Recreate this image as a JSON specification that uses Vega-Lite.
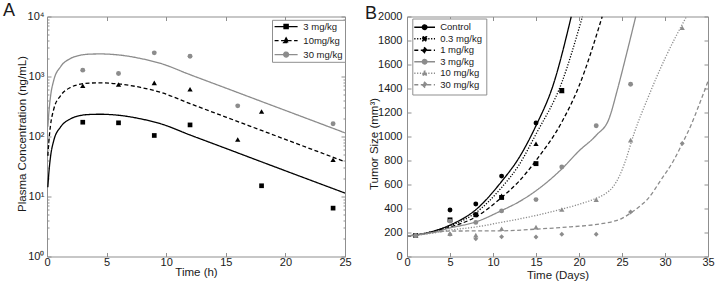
{
  "$schema": "https://vega.github.io/schema/vega-lite/v6.json",
  "autosize": {"type": "pad"},
  "padding": {"left": 2, "top": 1.5, "right": 0, "bottom": 0},
  "bounds": "flush",
  "spacing": 62,
  "resolve": {"scale": {"stroke": "independent", "fill": "independent", "shape": "independent", "strokeDash": "independent"}, "legend": {"stroke": "independent", "fill": "independent", "shape": "independent", "strokeDash": "independent"}},
  "config": {
    "font": "Liberation Sans",
    "view": {"stroke": "#8f8f8f", "strokeWidth": 1},
    "axis": {"domain": false, "grid": false, "tickColor": "#8f8f8f", "labelColor": "#1a1a1a", "titleColor": "#1a1a1a", "labelFontSize": 11, "titleFontSize": 11.5, "titleFontWeight": "normal", "labelFont": "Liberation Sans", "titleFont": "Liberation Sans", "labelFlush": false, "labelOverlap": false, "labelBound": false},
    "legend": {"labelFont": "Liberation Sans", "labelColor": "#1a1a1a", "labelFontSize": 9.5, "symbolOpacity": 1},
    "title": {"fontSize": 18, "fontWeight": "normal", "font": "Liberation Sans", "color": "#1a1a1a"}
  },
  "datasets": {
    "curvesA": [
      {"t":0.07,"c":14.3,"dose":"3 mg/kg"},{"t":0.15,"c":24,"dose":"3 mg/kg"},{"t":0.29,"c":45,"dose":"3 mg/kg"},{"t":0.57,"c":86,"dose":"3 mg/kg"},{"t":1.13,"c":143,"dose":"3 mg/kg"},{"t":1.97,"c":197,"dose":"3 mg/kg"},{"t":2.82,"c":224,"dose":"3 mg/kg"},{"t":3.6,"c":233,"dose":"3 mg/kg"},{"t":4.5,"c":235,"dose":"3 mg/kg"},{"t":5.3,"c":232,"dose":"3 mg/kg"},{"t":6.18,"c":224,"dose":"3 mg/kg"},{"t":7.86,"c":197,"dose":"3 mg/kg"},{"t":9.54,"c":163,"dose":"3 mg/kg"},{"t":12,"c":106,"dose":"3 mg/kg"},{"t":15,"c":63.4,"dose":"3 mg/kg"},{"t":18,"c":37.8,"dose":"3 mg/kg"},{"t":21,"c":22.6,"dose":"3 mg/kg"},{"t":25,"c":11.4,"dose":"3 mg/kg"},
      {"t":0.07,"c":47.7,"dose":"10mg/kg"},{"t":0.15,"c":80,"dose":"10mg/kg"},{"t":0.29,"c":150,"dose":"10mg/kg"},{"t":0.57,"c":287,"dose":"10mg/kg"},{"t":1.13,"c":477,"dose":"10mg/kg"},{"t":1.97,"c":657,"dose":"10mg/kg"},{"t":2.82,"c":747,"dose":"10mg/kg"},{"t":3.6,"c":777,"dose":"10mg/kg"},{"t":4.5,"c":783,"dose":"10mg/kg"},{"t":5.3,"c":773,"dose":"10mg/kg"},{"t":6.18,"c":747,"dose":"10mg/kg"},{"t":7.86,"c":657,"dose":"10mg/kg"},{"t":9.54,"c":543,"dose":"10mg/kg"},{"t":12,"c":353,"dose":"10mg/kg"},{"t":15,"c":211,"dose":"10mg/kg"},{"t":18,"c":126,"dose":"10mg/kg"},{"t":21,"c":75.3,"dose":"10mg/kg"},{"t":25,"c":38,"dose":"10mg/kg"},
      {"t":0.07,"c":145,"dose":"30 mg/kg"},{"t":0.15,"c":243,"dose":"30 mg/kg"},{"t":0.29,"c":455,"dose":"30 mg/kg"},{"t":0.57,"c":870,"dose":"30 mg/kg"},{"t":1.13,"c":1447,"dose":"30 mg/kg"},{"t":1.97,"c":1994,"dose":"30 mg/kg"},{"t":2.82,"c":2267,"dose":"30 mg/kg"},{"t":3.6,"c":2358,"dose":"30 mg/kg"},{"t":4.5,"c":2378,"dose":"30 mg/kg"},{"t":5.3,"c":2348,"dose":"30 mg/kg"},{"t":6.18,"c":2267,"dose":"30 mg/kg"},{"t":7.86,"c":1994,"dose":"30 mg/kg"},{"t":9.54,"c":1650,"dose":"30 mg/kg"},{"t":12,"c":1073,"dose":"30 mg/kg"},{"t":15,"c":642,"dose":"30 mg/kg"},{"t":18,"c":383,"dose":"30 mg/kg"},{"t":21,"c":229,"dose":"30 mg/kg"},{"t":25,"c":115,"dose":"30 mg/kg"}
    ],
    "pointsA": [
      {"t":3,"c":173,"dose":"3 mg/kg"},{"t":6,"c":169,"dose":"3 mg/kg"},{"t":9,"c":104,"dose":"3 mg/kg"},{"t":12,"c":156,"dose":"3 mg/kg"},{"t":18,"c":15.1,"dose":"3 mg/kg"},{"t":24,"c":6.4,"dose":"3 mg/kg"},
      {"t":3,"c":699,"dose":"10mg/kg"},{"t":6,"c":736,"dose":"10mg/kg"},{"t":9,"c":784,"dose":"10mg/kg"},{"t":12,"c":615,"dose":"10mg/kg"},{"t":16,"c":89,"dose":"10mg/kg"},{"t":18,"c":261,"dose":"10mg/kg"},{"t":24,"c":41,"dose":"10mg/kg"},
      {"t":3,"c":1276,"dose":"30 mg/kg"},{"t":6,"c":1122,"dose":"30 mg/kg"},{"t":9,"c":2477,"dose":"30 mg/kg"},{"t":12,"c":2181,"dose":"30 mg/kg"},{"t":16,"c":324,"dose":"30 mg/kg"},{"t":24,"c":163,"dose":"30 mg/kg"}
    ],
    "curvesB": [
      {"d":0,"v":170,"g":"Control"},{"d":3,"v":210,"g":"Control"},{"d":5,"v":262,"g":"Control"},{"d":8,"v":390,"g":"Control"},{"d":11,"v":625,"g":"Control"},{"d":13,"v":820,"g":"Control"},{"d":15,"v":1090,"g":"Control"},{"d":17,"v":1430,"g":"Control"},{"d":19.1,"v":2000,"g":"Control"},
      {"d":0,"v":170,"g":"0.3 mg/kg"},{"d":3,"v":208,"g":"0.3 mg/kg"},{"d":5,"v":255,"g":"0.3 mg/kg"},{"d":8,"v":365,"g":"0.3 mg/kg"},{"d":11,"v":575,"g":"0.3 mg/kg"},{"d":13,"v":760,"g":"0.3 mg/kg"},{"d":15,"v":1020,"g":"0.3 mg/kg"},{"d":18,"v":1450,"g":"0.3 mg/kg"},{"d":20.4,"v":2000,"g":"0.3 mg/kg"},
      {"d":0,"v":170,"g":"1 mg/kg"},{"d":3,"v":205,"g":"1 mg/kg"},{"d":5,"v":245,"g":"1 mg/kg"},{"d":8,"v":330,"g":"1 mg/kg"},{"d":11,"v":492,"g":"1 mg/kg"},{"d":13,"v":625,"g":"1 mg/kg"},{"d":15,"v":800,"g":"1 mg/kg"},{"d":18,"v":1120,"g":"1 mg/kg"},{"d":20,"v":1420,"g":"1 mg/kg"},{"d":22.7,"v":2000,"g":"1 mg/kg"},
      {"d":0,"v":170,"g":"3 mg/kg"},{"d":3,"v":200,"g":"3 mg/kg"},{"d":5,"v":238,"g":"3 mg/kg"},{"d":8,"v":288,"g":"3 mg/kg"},{"d":11,"v":383,"g":"3 mg/kg"},{"d":13,"v":455,"g":"3 mg/kg"},{"d":15,"v":548,"g":"3 mg/kg"},{"d":18,"v":730,"g":"3 mg/kg"},{"d":20,"v":880,"g":"3 mg/kg"},{"d":22,"v":1010,"g":"3 mg/kg"},{"d":23.5,"v":1150,"g":"3 mg/kg"},{"d":24.5,"v":1400,"g":"3 mg/kg"},{"d":25.5,"v":1680,"g":"3 mg/kg"},{"d":26.6,"v":2000,"g":"3 mg/kg"},
      {"d":0,"v":170,"g":"10 mg/kg"},{"d":3,"v":195,"g":"10 mg/kg"},{"d":5,"v":220,"g":"10 mg/kg"},{"d":8,"v":246,"g":"10 mg/kg"},{"d":11,"v":285,"g":"10 mg/kg"},{"d":15,"v":342,"g":"10 mg/kg"},{"d":18,"v":395,"g":"10 mg/kg"},{"d":20,"v":435,"g":"10 mg/kg"},{"d":22,"v":485,"g":"10 mg/kg"},{"d":23,"v":520,"g":"10 mg/kg"},{"d":24,"v":585,"g":"10 mg/kg"},{"d":24.7,"v":670,"g":"10 mg/kg"},{"d":25.3,"v":776,"g":"10 mg/kg"},{"d":26.4,"v":1025,"g":"10 mg/kg"},{"d":28,"v":1320,"g":"10 mg/kg"},{"d":30,"v":1650,"g":"10 mg/kg"},{"d":32.5,"v":2000,"g":"10 mg/kg"},
      {"d":0,"v":170,"g":"30 mg/kg"},{"d":3,"v":200,"g":"30 mg/kg"},{"d":5,"v":212,"g":"30 mg/kg"},{"d":8,"v":213,"g":"30 mg/kg"},{"d":11,"v":214,"g":"30 mg/kg"},{"d":15,"v":228,"g":"30 mg/kg"},{"d":18,"v":242,"g":"30 mg/kg"},{"d":22.5,"v":272,"g":"30 mg/kg"},{"d":24,"v":292,"g":"30 mg/kg"},{"d":25,"v":318,"g":"30 mg/kg"},{"d":26,"v":362,"g":"30 mg/kg"},{"d":27,"v":415,"g":"30 mg/kg"},{"d":28,"v":480,"g":"30 mg/kg"},{"d":29.5,"v":635,"g":"30 mg/kg"},{"d":31,"v":800,"g":"30 mg/kg"},{"d":32,"v":940,"g":"30 mg/kg"},{"d":33,"v":1090,"g":"30 mg/kg"},{"d":34,"v":1270,"g":"30 mg/kg"},{"d":35,"v":1460,"g":"30 mg/kg"}
    ],
    "pointsB": [
      {"d":1,"v":175,"g":"Control"},{"d":5,"v":388,"g":"Control"},{"d":8,"v":437,"g":"Control"},{"d":11,"v":670,"g":"Control"},{"d":15,"v":1112,"g":"Control"},
      {"d":1,"v":175,"g":"0.3 mg/kg"},{"d":5,"v":305,"g":"0.3 mg/kg"},{"d":8,"v":348,"g":"0.3 mg/kg"},{"d":11,"v":492,"g":"0.3 mg/kg"},{"d":15,"v":774,"g":"0.3 mg/kg"},{"d":18,"v":1384,"g":"0.3 mg/kg"},
      {"d":1,"v":175,"g":"1 mg/kg"},{"d":11,"v":505,"g":"1 mg/kg"},{"d":15,"v":940,"g":"1 mg/kg"},{"d":18,"v":1380,"g":"1 mg/kg"},
      {"d":1,"v":175,"g":"3 mg/kg"},{"d":5,"v":295,"g":"3 mg/kg"},{"d":8,"v":284,"g":"3 mg/kg"},{"d":11,"v":380,"g":"3 mg/kg"},{"d":15,"v":474,"g":"3 mg/kg"},{"d":18,"v":746,"g":"3 mg/kg"},{"d":22,"v":1089,"g":"3 mg/kg"},{"d":26,"v":1435,"g":"3 mg/kg"},
      {"d":1,"v":175,"g":"10 mg/kg"},{"d":5,"v":190,"g":"10 mg/kg"},{"d":8,"v":178,"g":"10 mg/kg"},{"d":11,"v":231,"g":"10 mg/kg"},{"d":15,"v":245,"g":"10 mg/kg"},{"d":18,"v":391,"g":"10 mg/kg"},{"d":22,"v":474,"g":"10 mg/kg"},{"d":26,"v":970,"g":"10 mg/kg"},{"d":32,"v":1906,"g":"10 mg/kg"},
      {"d":1,"v":175,"g":"30 mg/kg"},{"d":5,"v":185,"g":"30 mg/kg"},{"d":8,"v":147,"g":"30 mg/kg"},{"d":11,"v":165,"g":"30 mg/kg"},{"d":15,"v":163,"g":"30 mg/kg"},{"d":18,"v":186,"g":"30 mg/kg"},{"d":22,"v":186,"g":"30 mg/kg"},{"d":26,"v":371,"g":"30 mg/kg"},{"d":32,"v":942,"g":"30 mg/kg"}
    ]
  },
  "hconcat": [
    {
      "width": 298,
      "height": 240,
      "title": {"text": "A", "anchor": "start", "frame": "group", "dx": -44, "offset": -23.5, "baseline": "alphabetic"},
      "resolve": {"axis": {"x": "independent", "y": "independent"}},
      "layer": [
        {
          "data": {"name": "pointsA"},
          "transform": [{"filter": "false"}],
          "mark": {"type": "point", "strokeWidth": 1.3, "opacity": 1},
          "encoding": {
            "x": {"field": "t", "type": "quantitative", "scale": {"domain": [0, 25], "nice": false}, "axis": {"orient": "top", "values": [0, 5, 10, 15, 20, 25], "tickSize": -4, "labels": false, "title": null, "minExtent": 0, "maxExtent": 0, "offset": 0}},
            "y": {"field": "c", "type": "quantitative", "scale": {"type": "log", "domain": [1, 10000], "nice": false}, "axis": {"orient": "right", "values": [1,2,3,4,5,6,7,8,9,10,20,30,40,50,60,70,80,90,100,200,300,400,500,600,700,800,900,1000,2000,3000,4000,5000,6000,7000,8000,9000,10000],
                "tickSize": {"condition": {"test": "indexof([1,10,100,1000,10000], datum.value) >= 0", "value": -4}, "value": -2}, "labels": false, "title": null, "minExtent": 0, "maxExtent": 0}},
            "fill": {"field": "dose", "type": "nominal", "scale": {"domain": ["3 mg/kg", "10mg/kg", "30 mg/kg"], "range": ["#000000", "#000000", "#8c8c8c"]},
              "legend": {"title": null, "orient": "none", "legendX": 225, "legendY": 3.3, "symbolSize": 49, "symbolStrokeWidth": 1.3, "symbolOffset": 7.35, "labelOffset": 12.5, "padding": 2, "rowPadding": 3.0, "strokeColor": "#8f8f8f", "fillColor": "#ffffff", "symbolOpacity": 1}},
            "stroke": {"field": "dose", "type": "nominal", "scale": {"domain": ["3 mg/kg", "10mg/kg", "30 mg/kg"], "range": ["#000000", "#000000", "#8c8c8c"]},
              "legend": {"title": null, "orient": "none", "legendX": 225, "legendY": 3.3, "symbolSize": 49, "symbolStrokeWidth": 1.3, "symbolOffset": 7.35, "labelOffset": 12.5, "padding": 2, "rowPadding": 3.0, "strokeColor": "#8f8f8f", "fillColor": "#ffffff", "symbolOpacity": 1}},
            "strokeDash": {"field": "dose", "type": "nominal", "scale": {"domain": ["3 mg/kg", "10mg/kg", "30 mg/kg"], "range": [[1, 0], [4, 2.5], [1, 0]]},
              "legend": {"title": null, "orient": "none", "legendX": 225, "legendY": 3.3, "symbolSize": 49, "symbolStrokeWidth": 1.3, "symbolOffset": 7.35, "labelOffset": 12.5, "padding": 2, "rowPadding": 3.0, "strokeColor": "#8f8f8f", "fillColor": "#ffffff", "symbolOpacity": 1}},
            "shape": {"field": "dose", "type": "nominal", "scale": {"domain": ["3 mg/kg", "10mg/kg", "30 mg/kg"], "range": [
                "M-3.29,0L3.29,0M-0.6,-0.6L0.6,-0.6L0.6,0.6L-0.6,0.6Z",
                "M-3.29,0L3.29,0M0,-0.75L0.72,0.55L-0.72,0.55Z",
                "M-3.29,0L3.29,0M-0.7,0A0.7,0.7 0 1,0 0.7,0A0.7,0.7 0 1,0 -0.7,0Z"]},
              "legend": {"title": null, "orient": "none", "legendX": 225, "legendY": 3.3, "symbolSize": 49, "symbolStrokeWidth": 1.3, "symbolOffset": 7.35, "labelOffset": 12.5, "padding": 2, "rowPadding": 3.0, "strokeColor": "#8f8f8f", "fillColor": "#ffffff", "symbolOpacity": 1}}
          }
        },
        {
          "data": {"name": "curvesA"},
          "mark": {"type": "line", "strokeWidth": 1.3, "interpolate": "monotone", "clip": true},
          "encoding": {
            "x": {"field": "t", "type": "quantitative",
              "axis": {"orient": "bottom", "values": [0, 5, 10, 15, 20, 25], "tickSize": -4, "labelPadding": 4, "title": "Time (h)", "titleY": 18.5, "titleBaseline": "alphabetic"}},
            "y": {"field": "c", "type": "quantitative",
              "axis": {"orient": "left", "values": [1,2,3,4,5,6,7,8,9,10,20,30,40,50,60,70,80,90,100,200,300,400,500,600,700,800,900,1000,2000,3000,4000,5000,6000,7000,8000,9000,10000],
                "labelExpr": "indexof([1,10,100,1000,10000], datum.value) >= 0 ? '10' + ['⁰','¹','²','³','⁴'][indexof([1,10,100,1000,10000], datum.value)] : ''",
                "tickSize": {"condition": {"test": "indexof([1,10,100,1000,10000], datum.value) >= 0", "value": -4}, "value": -2},
                "labelPadding": 7, "title": "Plasma Concentration (ng/mL)", "titleX": -22, "titleY": 117, "titleBaseline": "alphabetic"}},
            "stroke": {"field": "dose", "type": "nominal"},
            "strokeDash": {"field": "dose", "type": "nominal"}
          }
        },
        {
          "data": {"name": "pointsA"},
          "transform": [{"filter": "datum.dose == '3 mg/kg'"}],
          "mark": {"type": "point", "shape": "square", "filled": true, "color": "#000000", "size": 22, "opacity": 1},
          "encoding": {"x": {"field": "t", "type": "quantitative", "axis": null}, "y": {"field": "c", "type": "quantitative", "axis": null}}
        },
        {
          "data": {"name": "pointsA"},
          "transform": [{"filter": "datum.dose == '10mg/kg'"}],
          "mark": {"type": "point", "shape": "triangle-up", "filled": true, "color": "#000000", "size": 28, "opacity": 1},
          "encoding": {"x": {"field": "t", "type": "quantitative", "axis": null}, "y": {"field": "c", "type": "quantitative", "axis": null}}
        },
        {
          "data": {"name": "pointsA"},
          "transform": [{"filter": "datum.dose == '30 mg/kg'"}],
          "mark": {"type": "point", "shape": "circle", "filled": true, "color": "#8c8c8c", "size": 24, "opacity": 1},
          "encoding": {"x": {"field": "t", "type": "quantitative", "axis": null}, "y": {"field": "c", "type": "quantitative", "axis": null}}
        }
      ]
    },
    {
      "width": 301,
      "height": 240,
      "title": {"text": "B", "anchor": "start", "frame": "group", "dx": -42, "offset": -26, "baseline": "alphabetic"},
      "resolve": {"axis": {"x": "independent", "y": "independent"}},
      "layer": [
        {
          "data": {"name": "pointsB"},
          "transform": [{"filter": "false"}],
          "mark": {"type": "point", "strokeWidth": 1.3, "opacity": 1},
          "encoding": {
            "x": {"field": "d", "type": "quantitative", "scale": {"domain": [0, 35], "nice": false}, "axis": {"orient": "top", "values": [0, 5, 10, 15, 20, 25, 30, 35], "tickSize": -4, "labels": false, "title": null, "minExtent": 0, "maxExtent": 0, "offset": 0}},
            "y": {"field": "v", "type": "quantitative", "scale": {"domain": [0, 2000], "nice": false}, "axis": {"orient": "right", "values": [0,200,400,600,800,1000,1200,1400,1600,1800,2000], "tickSize": -4, "labels": false, "title": null, "minExtent": 0, "maxExtent": 0}},
            "fill": {"field": "g", "type": "nominal", "scale": {"domain": ["Control", "0.3 mg/kg", "1 mg/kg", "3 mg/kg", "10 mg/kg", "30 mg/kg"], "range": ["#000000", "#000000", "#000000", "#8c8c8c", "#8c8c8c", "#8c8c8c"]},
              "legend": {"title": null, "orient": "none", "legendX": 5.3, "legendY": 2, "symbolSize": 49, "symbolStrokeWidth": 1.3, "symbolOffset": 3.6, "labelOffset": 10.8, "padding": 4, "rowPadding": 0.5, "strokeColor": "#8f8f8f", "fillColor": "#ffffff", "symbolOpacity": 1}},
            "stroke": {"field": "g", "type": "nominal", "scale": {"domain": ["Control", "0.3 mg/kg", "1 mg/kg", "3 mg/kg", "10 mg/kg", "30 mg/kg"], "range": ["#000000", "#000000", "#000000", "#8c8c8c", "#8c8c8c", "#8c8c8c"]},
              "legend": {"title": null, "orient": "none", "legendX": 5.3, "legendY": 2, "symbolSize": 49, "symbolStrokeWidth": 1.3, "symbolOffset": 3.6, "labelOffset": 10.8, "padding": 4, "rowPadding": 0.5, "strokeColor": "#8f8f8f", "fillColor": "#ffffff", "symbolOpacity": 1}},
            "strokeDash": {"field": "g", "type": "nominal", "scale": {"domain": ["Control", "0.3 mg/kg", "1 mg/kg", "3 mg/kg", "10 mg/kg", "30 mg/kg"], "range": [[1, 0], [1.2, 1.6], [4, 2.5], [1, 0], [1.2, 1.6], [4, 2.5]]},
              "legend": {"title": null, "orient": "none", "legendX": 5.3, "legendY": 2, "symbolSize": 49, "symbolStrokeWidth": 1.3, "symbolOffset": 3.6, "labelOffset": 10.8, "padding": 4, "rowPadding": 0.5, "strokeColor": "#8f8f8f", "fillColor": "#ffffff", "symbolOpacity": 1}},
            "shape": {"field": "g", "type": "nominal", "scale": {"domain": ["Control", "0.3 mg/kg", "1 mg/kg", "3 mg/kg", "10 mg/kg", "30 mg/kg"], "range": [
                "M-2.96,0L2.96,0M-0.66,0A0.66,0.66 0 1,0 0.66,0A0.66,0.66 0 1,0 -0.66,0Z",
                "M-2.96,0L2.96,0M-0.57,-0.57L0.57,-0.57L0.57,0.57L-0.57,0.57Z",
                "M-2.96,0L2.96,0M0,-0.71L0.71,0L0,0.71L-0.71,0Z",
                "M-2.96,0L2.96,0M-0.66,0A0.66,0.66 0 1,0 0.66,0A0.66,0.66 0 1,0 -0.66,0Z",
                "M-2.96,0L2.96,0M0,-0.75L0.72,0.55L-0.72,0.55Z",
                "M-2.96,0L2.96,0M0,-0.71L0.71,0L0,0.71L-0.71,0Z"]},
              "legend": {"title": null, "orient": "none", "legendX": 5.3, "legendY": 2, "symbolSize": 49, "symbolStrokeWidth": 1.3, "symbolOffset": 3.6, "labelOffset": 10.8, "padding": 4, "rowPadding": 0.5, "strokeColor": "#8f8f8f", "fillColor": "#ffffff", "symbolOpacity": 1}}
          }
        },
        {
          "data": {"name": "curvesB"},
          "mark": {"type": "line", "strokeWidth": 1.3, "interpolate": "monotone", "clip": true},
          "encoding": {
            "x": {"field": "d", "type": "quantitative",
              "axis": {"orient": "bottom", "values": [0, 5, 10, 15, 20, 25, 30, 35], "tickSize": -4, "labelPadding": 3.5, "title": "Time (Days)", "titleY": 21.5, "titleBaseline": "alphabetic"}},
            "y": {"field": "v", "type": "quantitative",
              "axis": {"orient": "left", "values": [0,200,400,600,800,1000,1200,1400,1600,1800,2000], "format": "d", "tickSize": -4, "labelPadding": 9, "title": "Tumor Size (mm³)", "titleX": -30, "titleY": 127, "titleBaseline": "alphabetic"}},
            "stroke": {"field": "g", "type": "nominal"},
            "strokeDash": {"field": "g", "type": "nominal"}
          }
        },
        {
          "data": {"name": "pointsB"},
          "transform": [{"filter": "datum.g == 'Control'"}],
          "mark": {"type": "point", "shape": "circle", "filled": true, "color": "#000000", "size": 24, "opacity": 1},
          "encoding": {"x": {"field": "d", "type": "quantitative", "axis": null}, "y": {"field": "v", "type": "quantitative", "axis": null}}
        },
        {
          "data": {"name": "pointsB"},
          "transform": [{"filter": "datum.g == '0.3 mg/kg'"}],
          "mark": {"type": "point", "shape": "square", "filled": true, "color": "#000000", "size": 24, "opacity": 1},
          "encoding": {"x": {"field": "d", "type": "quantitative", "axis": null}, "y": {"field": "v", "type": "quantitative", "axis": null}}
        },
        {
          "data": {"name": "pointsB"},
          "transform": [{"filter": "datum.g == '1 mg/kg'"}],
          "mark": {"type": "point", "shape": "triangle-up", "filled": true, "color": "#000000", "size": 28, "opacity": 1},
          "encoding": {"x": {"field": "d", "type": "quantitative", "axis": null}, "y": {"field": "v", "type": "quantitative", "axis": null}}
        },
        {
          "data": {"name": "pointsB"},
          "transform": [{"filter": "datum.g == '3 mg/kg'"}],
          "mark": {"type": "point", "shape": "circle", "filled": true, "color": "#8c8c8c", "size": 24, "opacity": 1},
          "encoding": {"x": {"field": "d", "type": "quantitative", "axis": null}, "y": {"field": "v", "type": "quantitative", "axis": null}}
        },
        {
          "data": {"name": "pointsB"},
          "transform": [{"filter": "datum.g == '10 mg/kg'"}],
          "mark": {"type": "point", "shape": "triangle-up", "filled": true, "color": "#8c8c8c", "size": 28, "opacity": 1},
          "encoding": {"x": {"field": "d", "type": "quantitative", "axis": null}, "y": {"field": "v", "type": "quantitative", "axis": null}}
        },
        {
          "data": {"name": "pointsB"},
          "transform": [{"filter": "datum.g == '30 mg/kg'"}],
          "mark": {"type": "point", "shape": "diamond", "filled": true, "color": "#8c8c8c", "size": 24, "opacity": 1},
          "encoding": {"x": {"field": "d", "type": "quantitative", "axis": null}, "y": {"field": "v", "type": "quantitative", "axis": null}}
        }
      ]
    }
  ]
}
